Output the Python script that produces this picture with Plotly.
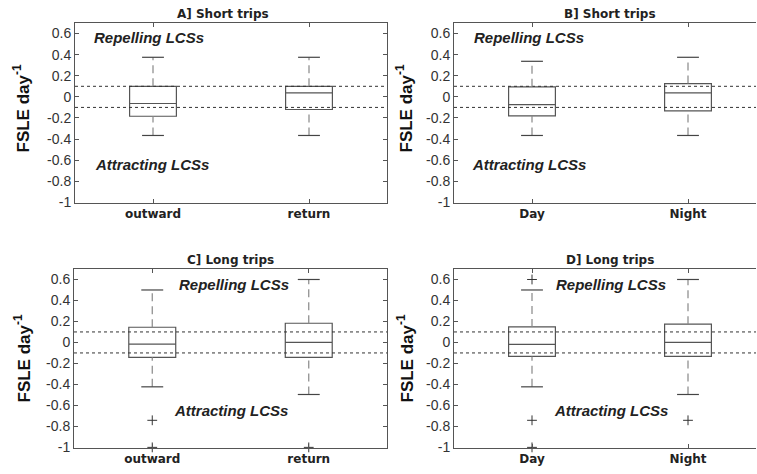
import plotly.graph_objects as go

# ---------------- data ----------------
cats_trip = ["outward", "return"]
cats_time = ["Day", "Night"]
positions = [1, 2]

titles = ["A] Short trips", "B] Short trips", "C] Long trips", "D] Long trips"]

a_upper = [0.375, 0.375]
a_q3 = [0.10, 0.10]
a_median = [-0.063, 0.038]
a_q1 = [-0.184, -0.12]
a_lower = [-0.366, -0.366]
a_out = [[], []]

b_upper = [0.337, 0.375]
b_q3 = [0.095, 0.126]
b_median = [-0.073, 0.038]
b_q1 = [-0.18, -0.133]
b_lower = [-0.366, -0.366]
b_out = [[], []]

c_upper = [0.50, 0.60]
c_q3 = [0.145, 0.183]
c_median = [-0.016, 0.0]
c_q1 = [-0.142, -0.142]
c_lower = [-0.423, -0.496]
c_out = [[-0.742, -1.0], [-1.0]]

d_upper = [0.50, 0.60]
d_q3 = [0.148, 0.174]
d_median = [-0.019, 0.0]
d_q1 = [-0.133, -0.133]
d_lower = [-0.423, -0.496]
d_out = [[0.6, -0.742, -1.0], [-0.742]]

thresholds = [0.1, -0.1]

y_tickvals = [-1, -0.8, -0.6, -0.4, -0.2, 0, 0.2, 0.4, 0.6]
y_ticktext = ["-1", "-0.8", "-0.6", "-0.4", "-0.2", "0", "0.2", "0.4", "0.6"]

label_rep = "Repelling LCSs"
label_att = "Attracting LCSs"
rep_pos = [(0.609, 0.562), (0.615, 0.56), (1.16, 0.551), (1.139, 0.551)]
att_pos = [(0.615, -0.64), (0.603, -0.64), (1.128, -0.649), (1.128, -0.645)]

panels = [
    (cats_trip, a_upper, a_q3, a_median, a_q1, a_lower, a_out),
    (cats_time, b_upper, b_q3, b_median, b_q1, b_lower, b_out),
    (cats_trip, c_upper, c_q3, c_median, c_q1, c_lower, c_out),
    (cats_time, d_upper, d_q3, d_median, d_q1, d_lower, d_out),
]

# ---------------- layout geometry ----------------
W, H = 757, 474
BOX_W = 0.30
CAP_W = 0.14
LINE = "#555555"
R_END = 756  # right panels run off the right edge in the reference

x_domains = [[75 / W, 387 / W], [454 / W, R_END / W], [74 / W, 387 / W], [454 / W, R_END / W]]
y_domains = [[(H - 203) / H, (H - 23) / H], [(H - 203) / H, (H - 23) / H],
             [(H - 448) / H, (H - 269) / H], [(H - 448) / H, (H - 269) / H]]
r_range = [0.5, 0.5 + 2 * (R_END - 454) / 312]
x_ranges = [[0.5, 2.5], r_range, [0.5, 2.5], r_range]

fig = go.Figure()
annotations = []

for i, (cats, up, q3, med, q1, lo, outs) in enumerate(panels):
    k = "" if i == 0 else str(i + 1)
    xa, ya = "x" + k, "y" + k

    # dotted thresholds
    for t in thresholds:
        fig.add_trace(go.Scatter(x=[0.5, 2.5], y=[t, t], mode="lines", xaxis=xa, yaxis=ya,
                                 line=dict(color="#333333", width=1, dash="dot"),
                                 hoverinfo="skip", showlegend=False))

    # dashed whiskers
    wx, wy = [], []
    for p, u, a3, a1, l in zip(positions, up, q3, q1, lo):
        wx += [p, p, None, p, p, None]
        wy += [a3, u, None, l, a1, None]
    fig.add_trace(go.Scatter(x=wx, y=wy, mode="lines", xaxis=xa, yaxis=ya,
                             line=dict(color="#888888", width=1.2, dash="8px,5px"),
                             hoverinfo="skip", showlegend=False))
    # caps
    cx, cy = [], []
    for p, u, l in zip(positions, up, lo):
        cx += [p - CAP_W / 2, p + CAP_W / 2, None, p - CAP_W / 2, p + CAP_W / 2, None]
        cy += [u, u, None, l, l, None]
    fig.add_trace(go.Scatter(x=cx, y=cy, mode="lines", xaxis=xa, yaxis=ya,
                             line=dict(color="#444444", width=1.2),
                             hoverinfo="skip", showlegend=False))

    # boxes
    fig.add_trace(go.Box(x=positions, q1=q1, median=med, q3=q3,
                         lowerfence=q1, upperfence=q3, width=BOX_W,
                         xaxis=xa, yaxis=ya, line=dict(color=LINE, width=1.2),
                         fillcolor="rgba(255,255,255,0)", whiskerwidth=0,
                         hoverinfo="skip", showlegend=False, boxpoints=False))

    # outliers
    ox, oy = [], []
    for p, o in zip(positions, outs):
        ox += [p] * len(o)
        oy += o
    if ox:
        fig.add_trace(go.Scatter(x=ox, y=oy, mode="markers", xaxis=xa, yaxis=ya,
                                 marker=dict(symbol="cross-thin", size=7,
                                             line=dict(color="#333333", width=1)),
                                 cliponaxis=False, hoverinfo="skip", showlegend=False))

    # axes
    fig.layout["xaxis" + k] = dict(
        domain=x_domains[i], range=x_ranges[i], anchor=ya, automargin=False,
        tickvals=positions, ticktext=cats, ticks="inside", ticklen=4,
        tickcolor=LINE, showline=True, linecolor=LINE, linewidth=1,
        mirror="ticks", showgrid=False, zeroline=False,
        tickfont=dict(family="DejaVu Sans", size=12, color="#222222", weight="bold"),
    )
    fig.layout["yaxis" + k] = dict(
        domain=y_domains[i], range=[-1.006, 0.7], anchor=xa, automargin=False,
        tickvals=y_tickvals, ticktext=y_ticktext, ticks="inside", ticklen=4,
        tickcolor=LINE, showline=True, linecolor=LINE, linewidth=1,
        mirror="ticks" if i in (0, 2) else False, showgrid=False, zeroline=False,
        tickfont=dict(family="Liberation Sans, Arial", size=14, color="#333333"),
    )

    # panel title
    annotations.append(dict(text=titles[i], xref=xa + " domain", yref=ya + " domain",
                            x=0.475 if i == 0 else (0.5 if i == 2 else 156 / (R_END - 454)),
                            y=1.0, yshift=9,
                            showarrow=False, xanchor="center", yanchor="middle",
                            font=dict(family="DejaVu Sans", size=12, color="#222222",
                                      weight="bold")))
    # y axis title
    annotations.append(dict(text="FSLE day<sup>-1</sup>", xref="paper", yref=ya + " domain",
                            x=(22 if i in (0, 2) else 405) / W,
                            y=0.525 if i < 2 else 0.5, textangle=-90,
                            showarrow=False, xanchor="center", yanchor="middle",
                            font=dict(family="Liberation Sans, Arial", size=17,
                                      color="#111111", weight="bold")))
    # region labels
    for lab, (px, py) in ((label_rep, rep_pos[i]), (label_att, att_pos[i])):
        annotations.append(dict(text=lab, xref=xa, yref=ya, x=px, y=py,
                                showarrow=False, xanchor="left", yanchor="middle",
                                font=dict(family="Liberation Sans, Arial", size=15,
                                          color="#222222", weight="bold", style="italic")))

fig.update_layout(
    template="none",
    width=W, height=H, margin=dict(l=0, r=0, t=0, b=0, autoexpand=False),
    paper_bgcolor="white", plot_bgcolor="white",
    annotations=annotations, showlegend=False,
)

fig.write_html(
    "out.html",
    config={"displayModeBar": False, "staticPlot": True},
    post_script="document.body.style.margin='0px';document.body.style.overflow='hidden';"
                "document.documentElement.style.overflow='hidden';",
)
